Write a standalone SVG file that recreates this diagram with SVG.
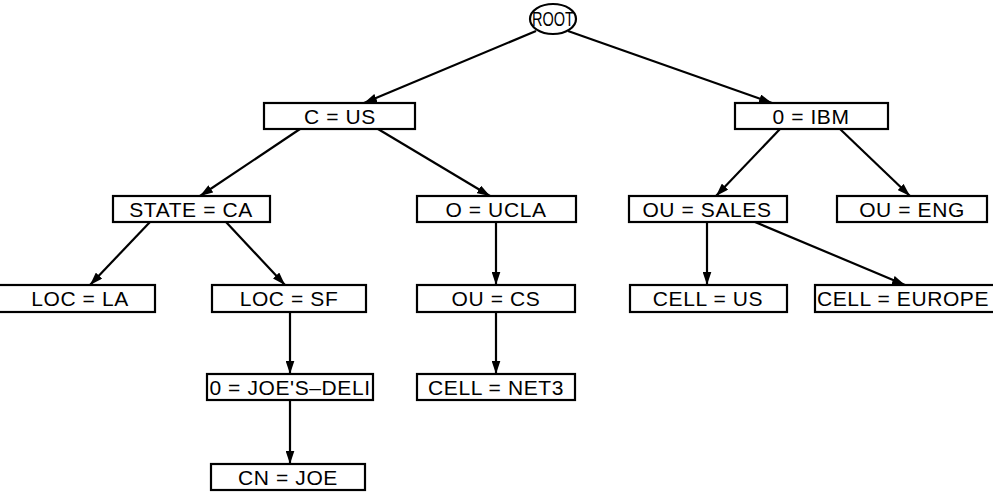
<svg xmlns="http://www.w3.org/2000/svg" width="993" height="497" viewBox="0 0 993 497">
<defs>
<marker id="ah" viewBox="0 0 12 8" refX="12" refY="4" markerWidth="13" markerHeight="9" markerUnits="userSpaceOnUse" orient="auto">
<path d="M0,0 L12,4 L0,8 Z" fill="#000"/>
</marker>
</defs>
<style>
.b{fill:#fff;stroke:#000;stroke-width:2.2}
.t{font-family:"Liberation Sans",Arial,sans-serif;font-size:21px;letter-spacing:0.6px;fill:#000;text-anchor:middle}
.c line{stroke:#000;stroke-width:2.2;marker-end:url(#ah)}
</style>
<rect width="993" height="497" fill="#fff"/>
<g class="c">
<line x1="536" y1="31" x2="364" y2="103"/>
<line x1="568" y1="31" x2="772" y2="103"/>
<line x1="300" y1="129" x2="200" y2="196"/>
<line x1="378" y1="129" x2="490" y2="196"/>
<line x1="150" y1="222" x2="90" y2="285"/>
<line x1="226" y1="222" x2="285" y2="285"/>
<line x1="496" y1="222" x2="496" y2="285"/>
<line x1="496" y1="312" x2="496" y2="374"/>
<line x1="290" y1="312" x2="290" y2="374"/>
<line x1="290" y1="400" x2="290" y2="464"/>
<line x1="780" y1="129" x2="716" y2="196"/>
<line x1="840" y1="129" x2="910" y2="196"/>
<line x1="707" y1="222" x2="707" y2="285"/>
<line x1="755" y1="222" x2="905" y2="285"/>
</g>
<g id="root"><ellipse cx="553" cy="19" rx="23" ry="15" class="b"/><text x="553" y="26" class="t" style="font-size:20px;letter-spacing:0" textLength="42" lengthAdjust="spacingAndGlyphs">ROOT</text></g>
<g id="c-us"><rect x="264" y="103" width="151" height="26" class="b"/><text x="340" y="124" class="t">C = US</text></g>
<g id="o-ibm"><rect x="735" y="103" width="153" height="26" class="b"/><text x="811" y="124" class="t">0 = IBM</text></g>
<g id="state-ca"><rect x="113" y="196" width="157" height="26" class="b"/><text x="191" y="217" class="t">STATE = CA</text></g>
<g id="o-ucla"><rect x="417" y="196" width="159" height="26" class="b"/><text x="496" y="217" class="t">O = UCLA</text></g>
<g id="ou-sales"><rect x="629" y="196" width="158" height="26" class="b"/><text x="707" y="217" class="t">OU = SALES</text></g>
<g id="ou-eng"><rect x="837" y="196" width="150" height="26" class="b"/><text x="912" y="217" class="t">OU = ENG</text></g>
<g id="loc-la"><rect x="-10" y="285" width="165" height="27" class="b"/><text x="80" y="306" class="t">LOC = LA</text></g>
<g id="loc-sf"><rect x="212" y="285" width="154" height="27" class="b"/><text x="289" y="306" class="t">LOC = SF</text></g>
<g id="ou-cs"><rect x="417" y="285" width="158" height="27" class="b"/><text x="496" y="306" class="t">OU = CS</text></g>
<g id="cell-us"><rect x="630" y="285" width="157" height="27" class="b"/><text x="708" y="306" class="t">CELL = US</text></g>
<g id="cell-europe"><rect x="815" y="285" width="190" height="27" class="b"/><text x="903" y="306" class="t">CELL = EUROPE</text></g>
<g id="o-joes-deli"><rect x="207" y="374" width="166" height="26" class="b"/><text x="290" y="395" class="t">0 = JOE'S–DELI</text></g>
<g id="cell-net3"><rect x="417" y="374" width="158" height="26" class="b"/><text x="496" y="395" class="t">CELL = NET3</text></g>
<g id="cn-joe"><rect x="211" y="464" width="154" height="26" class="b"/><text x="288" y="485" class="t">CN = JOE</text></g>
</svg>
